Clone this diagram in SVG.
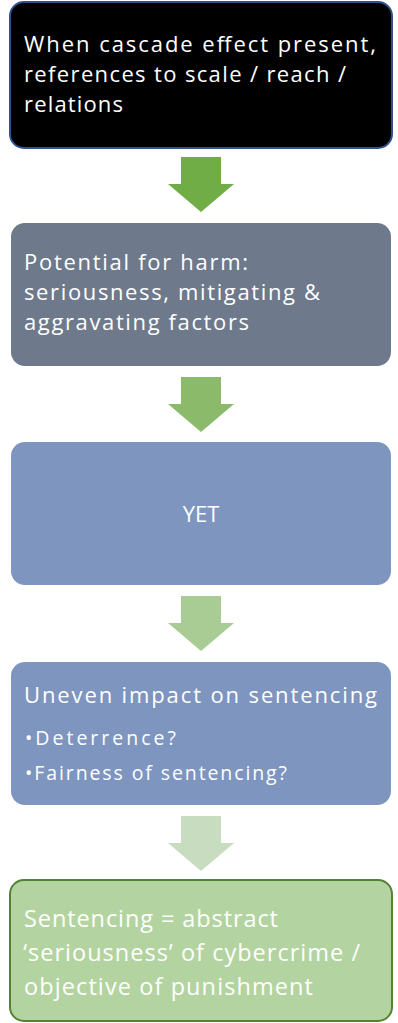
<svg xmlns="http://www.w3.org/2000/svg" width="398" height="1023" viewBox="0 0 398 1023">
<style>
text{font-family:"Open Sans","Liberation Sans",sans-serif;fill:#ffffff;font-size:22px}
.b{font-size:19.5px}
.l{font-size:23.5px}
</style>
<rect width="398" height="1023" fill="#ffffff"/>
<g id="connectors">
<polygon points="181,157 221,157 221,184 234,184 201,212 168,184 181,184" fill="#70AD47"/>
<polygon points="181,377 221,377 221,404 234,404 201,432 168,404 181,404" fill="#8BBB6A"/>
<polygon points="181,596 221,596 221,623 234,623 201,651 168,623 181,623" fill="#A8CC94"/>
<polygon points="181,816 221,816 221,843 234,843 201,871 168,843 181,843" fill="#C8DCBF"/>
</g>
<g id="n1">
<rect x="10" y="2" width="382" height="146" rx="14" fill="#000000" stroke="#2F528F" stroke-width="2"/>
<text x="24" y="52" textLength="352">When cascade effect present,</text>
<text x="24" y="82" textLength="322">references to scale / reach /</text>
<text x="24" y="112" textLength="99">relations</text>
</g>
<g id="n2">
<rect x="11" y="223" width="380" height="143" rx="14" fill="#6E798B"/>
<text x="24" y="270" textLength="224">Potential for harm:</text>
<text x="24" y="300" textLength="296">seriousness, mitigating &amp;</text>
<text x="24" y="330" textLength="225">aggravating factors</text>
</g>
<g id="n3">
<rect x="11" y="442" width="380" height="143" rx="14" fill="#7D95BF"/>
<text x="201" y="522" text-anchor="middle">YET</text>
</g>
<g id="n4">
<rect x="11" y="662" width="380" height="143" rx="14" fill="#7D95BF"/>
<text x="24" y="703" textLength="353">Uneven impact on sentencing</text>
<text class="b" x="25" y="745" textLength="151">•Deterrence?</text>
<text class="b" x="25" y="780" textLength="262">•Fairness of sentencing?</text>
</g>
<g id="n5">
<rect x="10" y="880" width="382" height="141" rx="14" fill="#B3D4A0" stroke="#548235" stroke-width="2"/>
<text class="l" x="24" y="927" textLength="254">Sentencing = abstract</text>
<text class="l" x="23" y="961" textLength="337">‘seriousness’ of cybercrime /</text>
<text class="l" x="24" y="995" textLength="289">objective of punishment</text>
</g>
</svg>
